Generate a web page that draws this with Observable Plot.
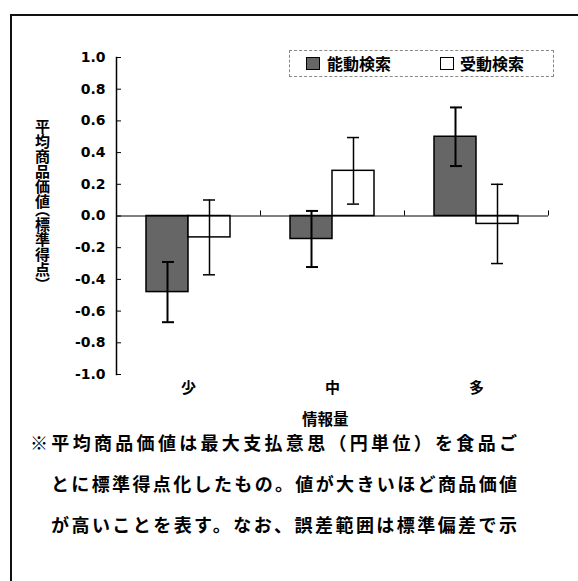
<!DOCTYPE html>
<html><head><meta charset="utf-8">
<script src="https://cdn.jsdelivr.net/npm/d3@7"></script>
<script src="https://cdn.jsdelivr.net/npm/@observablehq/plot@0.6"></script>
<style>
  html,body{margin:0;padding:0;background:#fff;}
  body{width:578px;height:581px;position:relative;overflow:hidden;font-family:"Noto Sans CJK JP","DejaVu Sans",sans-serif;}
  #frame{position:absolute;left:10px;top:14px;width:580px;height:600px;border-left:2px solid #111;border-top:2px solid #111;}
  #chart{position:absolute;left:0;top:0;}
  .abs{position:absolute;color:#000;}
  #ylabel{left:33px;top:119px;width:18px;font-size:15px;font-weight:bold;line-height:18px;writing-mode:vertical-rl;text-orientation:mixed;font-feature-settings:"vhal";white-space:nowrap;}
  #xlabel{left:302px;top:410px;font-size:15.5px;font-weight:bold;line-height:16px;}
  #legend{left:289px;top:50px;width:263px;height:25px;border:1px dashed #888;}
  .sw{position:absolute;top:6px;width:12px;height:11px;border:1px solid #000;}
  .lt{position:absolute;top:1px;font-size:16px;font-weight:bold;line-height:22px;}
  .cap{font-size:18px;font-weight:bold;text-align:justify;text-align-last:justify;line-height:18px;}
</style>
</head><body>
<div id="frame"></div>
<div id="chart" class="abs"></div>
<div id="ylabel" class="abs"></div>
<div id="xlabel" class="abs"></div>
<div id="legend" class="abs"></div>
<div id="caption"></div>
<script>
const categories = ["少", "中", "多"];
const seriesNames = ["能動検索", "受動検索"];
const activeMeans = [-0.48, -0.145, 0.50];
const activeErrors = [0.19, 0.177, 0.185];
const passiveMeans = [-0.135, 0.285, -0.05];
const passiveErrors = [0.236, 0.21, 0.25];
const yTicks = [-1.0, -0.8, -0.6, -0.4, -0.2, 0.0, 0.2, 0.4, 0.6, 0.8, 1.0];
const yTitle = "平均商品価値（標準得点）";
const xTitle = "情報量";
const captionLines = [
  "※平均商品価値は最大支払意思（円単位）を食品ご",
  "とに標準得点化したもの。値が大きいほど商品価値",
  "が高いことを表す。なお、誤差範囲は標準偏差で示"
];

const active = categories.map((c, i) => ({cat: c, mean: activeMeans[i], err: activeErrors[i]}));
const passive = categories.map((c, i) => ({cat: c, mean: passiveMeans[i], err: passiveErrors[i]}));

const chart = Plot.plot({
  width: 578, height: 430,
  marginLeft: 116, marginRight: 30, marginTop: 57, marginBottom: 56,
  style: {fontFamily: "'DejaVu Sans', sans-serif", background: "transparent", color: "#000"},
  x: {domain: categories, paddingInner: 0.4167, paddingOuter: 0.2083, axis: null},
  y: {domain: [-1, 1], axis: null},
  marks: [
    Plot.axisY(yTicks, {tickSize: -5, tickFormat: () => "", strokeWidth: 1, label: null}),
    Plot.axisY(yTicks, {tickSize: 0, tickPadding: 11, tickFormat: d => d.toFixed(1), fontSize: 14, fontWeight: "bold", style: "letter-spacing:1px", label: null}),
    Plot.axisX({tickSize: 0, tickPadding: 8, fontSize: 15, fontFamily: "'Noto Sans CJK JP', sans-serif", fontWeight: "bold", label: null}),
    Plot.barY(active, {x: "cat", y1: 0, y2: "mean", fill: "#666", stroke: "#000", strokeWidth: 1.5, insetRight: 42}),
    Plot.barY(passive, {x: "cat", y1: 0, y2: "mean", fill: "#fff", stroke: "#000", strokeWidth: 1.5, insetLeft: 42}),
    Plot.ruleY([0], {stroke: "#000", strokeWidth: 1}),
    Plot.ruleX(categories, {x: d => d, y1: 0, y2: 0.032, dx: 72, stroke: "#000"}),
    Plot.frame({anchor: "left", stroke: "#000", strokeWidth: 1.5}),
    Plot.ruleX(active, {x: "cat", y1: d => d.mean - d.err, y2: d => d.mean + d.err, dx: -21, strokeWidth: 2, stroke: "#000"}),
    Plot.tickY(active, {x: "cat", y: d => d.mean + d.err, insetLeft: 16, insetRight: 56, strokeWidth: 2, stroke: "#000"}),
    Plot.tickY(active, {x: "cat", y: d => d.mean - d.err, insetLeft: 16, insetRight: 56, strokeWidth: 2, stroke: "#000"}),
    Plot.ruleX(passive, {x: "cat", y1: d => d.mean - d.err, y2: d => d.mean + d.err, dx: 21, strokeWidth: 1.5, stroke: "#000"}),
    Plot.tickY(passive, {x: "cat", y: d => d.mean + d.err, insetLeft: 57, insetRight: 15, strokeWidth: 1.5, stroke: "#000"}),
    Plot.tickY(passive, {x: "cat", y: d => d.mean - d.err, insetLeft: 57, insetRight: 15, strokeWidth: 1.5, stroke: "#000"})
  ]
});
document.getElementById("chart").appendChild(chart);

document.getElementById("ylabel").textContent = yTitle;
document.getElementById("xlabel").textContent = xTitle;

const legend = document.getElementById("legend");
legend.innerHTML =
  `<div class="sw" style="left:16px;background:#666"></div><div class="lt" style="left:37px">${seriesNames[0]}</div>` +
  `<div class="sw" style="left:150px;background:#fff"></div><div class="lt" style="left:170px">${seriesNames[1]}</div>`;

const cap = document.getElementById("caption");
const capPos = [{left: 30, top: 433, width: 487}, {left: 51, top: 474, width: 466}, {left: 51, top: 515, width: 466}];
captionLines.forEach((t, i) => {
  const d = document.createElement("div");
  d.className = "abs cap";
  d.style.left = capPos[i].left + "px";
  d.style.top = capPos[i].top + "px";
  d.style.width = capPos[i].width + "px";
  d.textContent = t;
  cap.appendChild(d);
});
</script>
</body></html>
